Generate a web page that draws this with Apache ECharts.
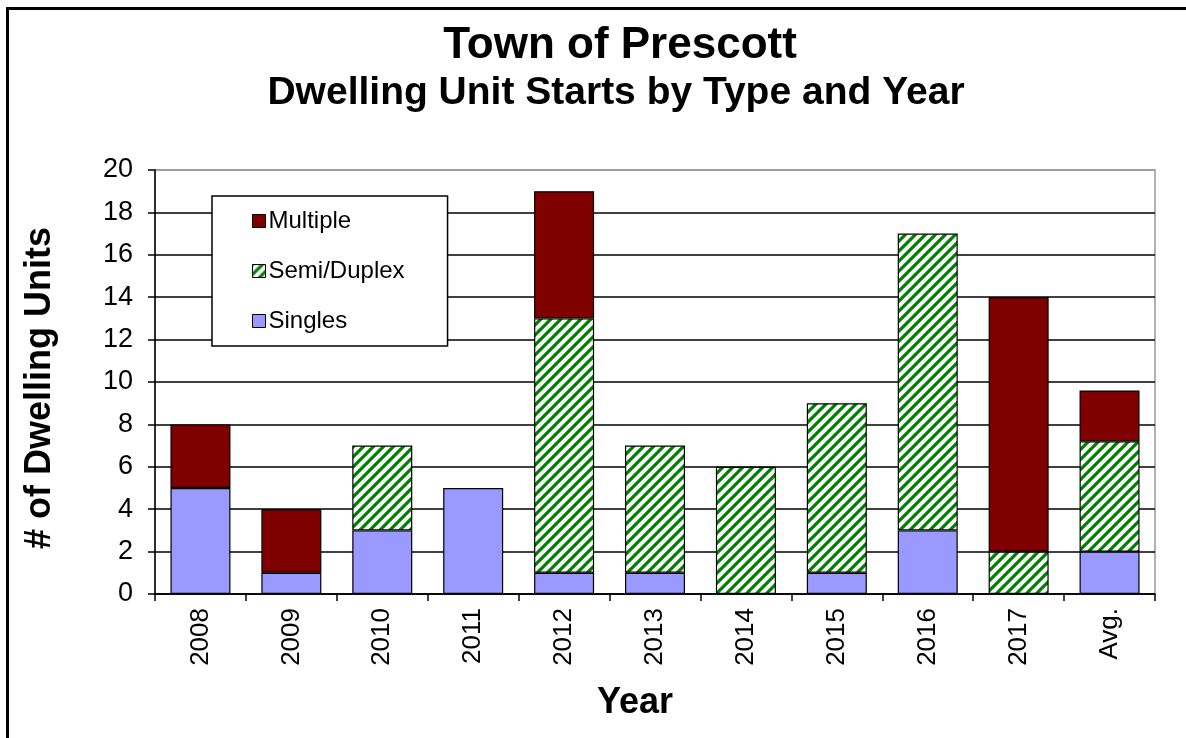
<!DOCTYPE html>
<html>
<head>
<meta charset="utf-8">
<script src="https://cdn.jsdelivr.net/npm/echarts@6/dist/echarts.min.js"></script>
<style>
html,body{margin:0;padding:0;background:#fff;overflow:hidden;}
#chart{position:absolute;left:0;top:0;width:1186px;height:738px;}
#frame{position:absolute;left:6px;top:7px;width:1400px;height:1000px;border-left:3px solid #000;border-top:3px solid #000;pointer-events:none;}
</style>
</head>
<body>
<div id="chart"></div>
<div id="frame"></div>
<script>
const categories = ['2008','2009','2010','2011','2012','2013','2014','2015','2016','2017','Avg.'];
const singles   = [5, 1, 3, 5, 1, 1, 0, 1, 3, 0, 2.0];
const semiDuplex = [0, 0, 4, 0, 12, 6, 6, 8, 14, 2, 5.2];
const multiple  = [3, 3, 0, 0, 6, 0, 0, 0, 0, 12, 2.4];
const yTicks = [0, 2, 4, 6, 8, 10, 12, 14, 16, 18, 20];

const FONT = '"Liberation Sans", Arial, sans-serif';

// hatch pattern
const P = 10;
const pc = document.createElement('canvas');
pc.width = P; pc.height = P;
const g = pc.getContext('2d');
g.fillStyle = '#fff'; g.fillRect(0,0,P,P);
g.strokeStyle = '#008000'; g.lineWidth = 3.2; g.lineCap = 'square';
[-P, 0, P].forEach(dx => {
  g.beginPath(); g.moveTo(dx, P); g.lineTo(dx+P, 0); g.stroke();
});
const hatch = {image: pc, repeat: 'repeat'};

const nz = a => a.map(v => v === 0 ? null : v);
const barStyle = c => ({color: c, borderColor: '#000', borderWidth: 1.2});

const chart = echarts.init(document.getElementById('chart'), null, {renderer: 'canvas'});
const splitColors = yTicks.map((t,i)=> i === yTicks.length-1 ? '#999' : '#000');

chart.setOption({
  animation: false,
  backgroundColor: 'transparent',
  textStyle: {fontFamily: FONT},
  grid: {left: 155, right: 31, top: 170, bottom: 144, show: true, borderColor: '#999', borderWidth: 1.5, backgroundColor: 'transparent'},
  legend: {
    orient: 'vertical', left: 212, top: 196,
    data: ['Multiple', 'Semi/Duplex', 'Singles'],
    backgroundColor: '#fff', borderColor: '#000', borderWidth: 1.5,
    padding: [13, 43, 13, 40],
    itemWidth: 13, itemHeight: 13, itemGap: 26,
    icon: 'rect',
    itemStyle: {borderColor: '#000', borderWidth: 1},
    textStyle: {fontSize: 24, color: '#000', fontFamily: FONT, padding: [0,0,0,-2]}
  },
  xAxis: {
    type: 'category', data: categories,
    axisLine: {show: true, lineStyle: {color: '#000', width: 1.5}},
    axisTick: {show: true, length: 7, lineStyle: {color: '#000', width: 1.5}},
    axisLabel: {rotate: 90, fontSize: 26, color: '#000', margin: 14, fontFamily: FONT}
  },
  yAxis: {
    type: 'value', min: 0, max: 20, interval: 2,
    axisLine: {show: true, lineStyle: {color: '#000', width: 1.5}},
    axisTick: {show: true, length: 7, lineStyle: {color: '#000', width: 1.5}},
    axisLabel: {fontSize: 27, color: '#000', margin: 22, fontFamily: FONT},
    splitLine: {show: true, lineStyle: {color: splitColors, width: 1.5}}
  },
  graphic: [
    {type: 'text', x: 620, y: 46, style: {text: 'Town of Prescott', font: 'bold 44px ' + FONT, fill: '#000', textAlign: 'center', textVerticalAlign: 'middle'}},
    {type: 'text', x: 616, y: 93, style: {text: 'Dwelling Unit Starts by Type and Year', font: 'bold 39px ' + FONT, fill: '#000', textAlign: 'center', textVerticalAlign: 'middle'}},
    {type: 'text', x: 40, y: 388, rotation: Math.PI/2, style: {text: '# of Dwelling Units', font: 'bold 36px ' + FONT, fill: '#000', textAlign: 'center', textVerticalAlign: 'middle'}},
    {type: 'text', x: 635, y: 703, style: {text: 'Year', font: 'bold 36px ' + FONT, fill: '#000', textAlign: 'center', textVerticalAlign: 'middle'}}
  ],
  series: [
    {name: 'Singles', type: 'bar', stack: 'a', barWidth: '66%', data: nz(singles), itemStyle: barStyle('#9999ff')},
    {name: 'Semi/Duplex', type: 'bar', stack: 'a', barWidth: '66%', data: nz(semiDuplex), itemStyle: barStyle(hatch)},
    {name: 'Multiple', type: 'bar', stack: 'a', barWidth: '66%', data: nz(multiple), itemStyle: barStyle('#800000')}
  ]
});
</script>
</body>
</html>
